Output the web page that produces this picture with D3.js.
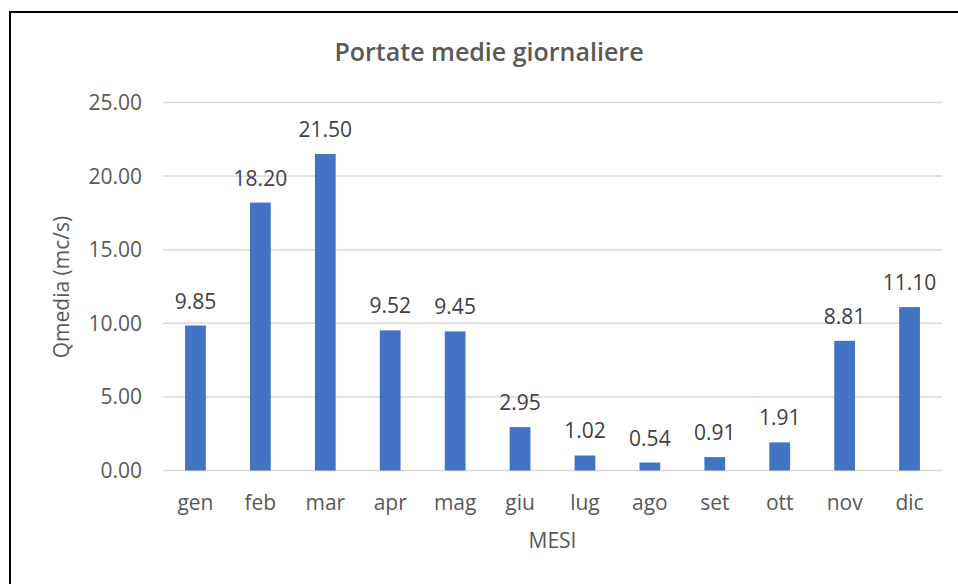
<!DOCTYPE html>
<html><head><meta charset="utf-8">
<script src="https://cdn.jsdelivr.net/npm/d3@7"></script>
<style>
html,body{margin:0;padding:0;background:#fff;}
svg{display:block;}
text{font-family:"Open Sans","Noto Sans",sans-serif;}
</style></head>
<body>
<svg id="chart" width="958" height="584"></svg>
<script>
const categories = ["gen","feb","mar","apr","mag","giu","lug","ago","set","ott","nov","dic"];
const values = [9.85,18.20,21.50,9.52,9.45,2.95,1.02,0.54,0.91,1.91,8.81,11.10];
const yTicks = [0,5,10,15,20,25];
const title = "Portate medie giornaliere";
const xTitle = "MESI";
const yTitle = "Qmedia (mc/s)";

const svg = d3.select("#chart");
const mLeft = 163, mRight = 942, mTop = 102.5, mBottom = 470.5;
const FS = 21;

svg.append("rect").attr("x",10).attr("y",12).attr("width",1000).attr("height",700)
  .attr("fill","#fff").attr("stroke","#000").attr("stroke-width",2);

const x = d3.scaleBand().domain(categories).range([mLeft,mRight]).paddingInner(0.68).paddingOuter(0.34);
const y = d3.scaleLinear().domain([0,25]).range([mBottom,mTop]);

// gridlines
svg.append("g").selectAll("line").data(yTicks).join("line")
  .attr("x1",mLeft).attr("x2",mRight).attr("y1",d=>y(d)).attr("y2",d=>y(d))
  .attr("stroke","#d9d9d9").attr("stroke-width",1.5);

// y axis labels
const yAxis = d3.axisLeft(y).tickValues(yTicks).tickFormat(d3.format(".2f")).tickSize(0).tickPadding(0);
const ya = svg.append("g").attr("transform",`translate(142,0)`).call(yAxis);
ya.select(".domain").remove();
ya.selectAll("text").attr("font-size",FS).attr("fill","#595959").attr("font-family","Open Sans").attr("dy","0.33em");

// bars
svg.append("g").selectAll("rect").data(values).join("rect")
  .attr("x",(d,i)=>x(categories[i])).attr("width",x.bandwidth())
  .attr("y",d=>y(d)).attr("height",d=>y(0)-y(d)).attr("fill","#4472c4");

// data labels
svg.append("g").selectAll("text").data(values).join("text")
  .attr("x",(d,i)=>x(categories[i])+x.bandwidth()/2).attr("y",d=>y(d)-17)
  .attr("text-anchor","middle").attr("font-size",FS).attr("fill","#404040")
  .text(d=>d3.format(".2f")(d));

// x axis labels
const xAxis = d3.axisBottom(x).tickSize(0).tickPadding(0);
const xa = svg.append("g").attr("transform",`translate(0,${mBottom})`).call(xAxis);
xa.select(".domain").remove();
xa.selectAll("text").attr("font-size",FS).attr("fill","#595959").attr("font-family","Open Sans").attr("dy",null).attr("y",39);

// titles
svg.append("text").attr("x",489).attr("y",61).attr("text-anchor","middle")
  .attr("font-size",25).attr("font-weight",600).attr("fill","#595959").text(title);
svg.append("text").attr("x",552.5).attr("y",548).attr("text-anchor","middle")
  .attr("font-size",FS).attr("fill","#595959").text(xTitle);
svg.append("text").attr("transform","translate(69,287) rotate(-90)").attr("text-anchor","middle")
  .attr("font-size",FS).attr("fill","#595959").text(yTitle);
</script>
</body></html>
